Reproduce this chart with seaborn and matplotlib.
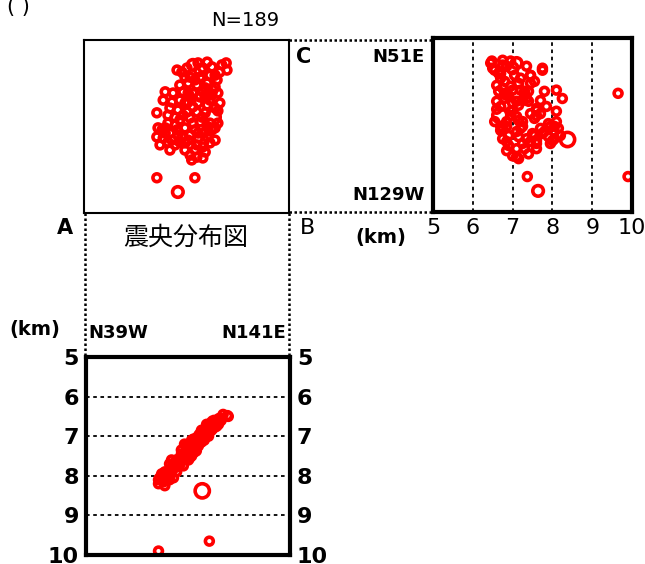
import matplotlib
matplotlib.use("Agg")
import numpy as np
import pandas as pd
import matplotlib.pyplot as plt
from matplotlib.lines import Line2D
import seaborn as sns

# hypocentre list (km); x,y = map position, depth in km
x_km = [2.35, 2.47, 2.75, 2.88, 3.00, 3.23, 3.48, 3.43, 2.68, 2.93,
        3.18, 3.36, 2.63, 2.85, 3.11, 3.31, 2.42, 2.05, 2.25, 2.50,
        2.75, 3.00, 3.23, 3.38, 2.00, 2.22, 2.42, 2.63, 2.88, 3.11,
        3.31, 2.17, 2.37, 2.60, 2.85, 3.06, 3.26, 1.84, 2.12, 2.12,
        2.42, 2.68, 2.93, 3.18, 3.38, 2.35, 2.55, 2.80, 3.06, 3.23,
        1.84, 2.00, 2.22, 2.47, 2.68, 2.88, 3.11, 3.31, 1.92, 2.17,
        2.30, 2.55, 2.85, 3.00, 2.72, 2.85, 3.00, 2.55, 1.84, 2.80,
        2.37, 3.13, 2.95, 2.60, 3.11, 3.31, 2.80, 3.06, 2.68, 2.93,
        3.18, 3.43, 2.75, 2.50, 2.98, 2.75, 3.31, 2.63, 3.18, 2.42,
        2.30, 2.80, 2.05, 2.30, 2.55, 3.06, 3.26, 2.93, 2.55, 3.38,
        3.13, 2.88, 2.17, 2.63, 3.06, 2.68, 1.97, 1.87, 3.61, 3.59,
        2.05, 2.12, 2.37]
y_km = [3.61, 3.56, 3.74, 3.79, 3.66, 3.69, 3.74, 3.56, 3.43, 3.43,
        3.48, 3.36, 3.28, 3.23, 3.28, 3.18, 3.23, 3.06, 3.03, 3.06,
        3.03, 3.06, 2.98, 3.03, 2.85, 2.80, 2.85, 2.80, 2.78, 2.73,
        2.65, 2.65, 2.60, 2.55, 2.55, 2.53, 2.42, 2.53, 2.47, 2.27,
        2.35, 2.40, 2.30, 2.27, 2.27, 2.10, 2.15, 2.10, 2.05, 2.10,
        1.92, 1.89, 1.84, 1.92, 1.97, 1.89, 1.92, 1.84, 1.72, 1.59,
        1.72, 1.77, 1.72, 1.67, 1.34, 1.41, 1.39, 1.59, 0.89, 0.89,
        0.53, 2.98, 1.82, 3.66, 3.81, 3.48, 3.36, 3.16, 2.93, 2.93,
        2.85, 2.78, 2.68, 2.47, 2.42, 2.27, 2.15, 1.84, 1.77, 1.79,
        2.22, 1.59, 2.15, 2.42, 2.78, 2.93, 3.11, 3.61, 3.43, 2.58,
        2.15, 2.02, 2.02, 3.03, 1.54, 1.46, 2.10, 2.15, 3.61, 3.79,
        2.02, 1.79, 1.97]
depth = [7.75, 7.75, 7.10, 6.95, 6.85, 6.75, 6.45, 6.55, 7.45, 7.05,
         6.70, 6.70, 7.55, 7.15, 6.80, 6.60, 7.45, 8.10, 7.80, 7.20,
         7.40, 7.00, 6.80, 6.65, 8.25, 7.70, 7.35, 7.25, 7.10, 7.00,
         6.70, 7.85, 7.60, 7.60, 7.00, 6.95, 6.68, 8.10, 7.70, 8.10,
         7.55, 7.10, 7.15, 6.85, 6.55, 7.70, 7.25, 7.20, 6.70, 6.75,
         8.20, 7.90, 8.05, 7.55, 7.50, 7.15, 6.90, 6.75, 7.95, 7.60,
         7.60, 7.45, 7.25, 6.90, 7.15, 7.00, 7.10, 7.30, 9.90, 7.37,
         7.64, 9.65, 8.38, 7.35, 6.75, 6.65, 7.20, 6.95, 7.30, 6.85,
         6.80, 6.60, 7.15, 7.45, 6.95, 7.25, 6.70, 7.35, 6.85, 7.60,
         7.90, 7.10, 7.95, 7.60, 7.40, 6.90, 6.75, 7.00, 7.45, 6.60,
         6.85, 7.10, 7.80, 7.30, 6.85, 7.40, 8.15, 8.05, 6.50, 6.48,
         8.05, 8.00, 7.75]
mag = [1, 1, 2, 1, 1, 1, 1, 1, 1, 1,
       1, 1, 1, 1, 1, 1, 1, 1, 1, 1,
       1, 1, 1, 1, 1, 1, 1, 1, 1, 1,
       1, 1, 1, 1, 1, 1, 3, 1, 1, 1,
       1, 1, 1, 1, 1, 1, 1, 1, 1, 1,
       1, 1, 1, 1, 1, 1, 1, 1, 1, 1,
       1, 1, 1, 1, 1, 1, 1, 1, 1, 1,
       2, 1, 3, 1, 1, 1, 1, 1, 1, 1,
       1, 1, 1, 1, 1, 1, 1, 1, 1, 1,
       1, 1, 1, 1, 1, 1, 1, 2, 1, 1,
       1, 1, 1, 1, 1, 1, 1, 1, 1, 1,
       1, 1, 1]

depth_ticks = [5, 6, 7, 8, 9, 10]
n_events = 189

df = pd.DataFrame({"x": x_km, "y": y_km, "depth": depth, "mag": mag})

sns.set_style("white")
plt.rcParams["font.family"] = ["DejaVu Sans", "Noto Sans CJK JP"]
plt.rcParams["text.color"] = "black"
plt.rcParams["xtick.color"] = "black"
plt.rcParams["ytick.color"] = "black"

W, H = 645, 564
fig = plt.figure(figsize=(W / 100, H / 100), dpi=100)


def box(x0, y0, x1, y1):
    # pixel box -> figure fraction
    return [x0 / W, 1 - y1 / H, (x1 - x0) / W, (y1 - y0) / H]


XMAX = 205 / 39.6
YMAX = 173 / 39.6
ring = dict(size="mag", sizes={1: 32, 2: 58, 3: 105}, legend=False,
            facecolors="none", edgecolors="red", linewidths=2.6, marker="o")

# epicentre map
ax_map = fig.add_axes(box(84, 40, 289, 213))
sns.scatterplot(data=df, x="x", y="y", ax=ax_map, **ring)
ax_map.set_xlim(0, XMAX)
ax_map.set_ylim(0, YMAX)

# cross section C (depth horizontal)
ax_c = fig.add_axes(box(433, 38, 632, 212))
sns.scatterplot(data=df, x="depth", y="y", ax=ax_c, **ring)
ax_c.set_xlim(5, 10)
ax_c.set_ylim(0, YMAX)
ax_c.set_xticks(depth_ticks)
ax_c.set_yticks([])
for d in depth_ticks[1:-1]:
    ax_c.axvline(d, color="black", ls=(0, (2, 2)), lw=1.3, zorder=0)
ax_c.tick_params(axis="x", length=0, pad=4, labelsize=16)

# cross section A-B (depth vertical)
ax_ab = fig.add_axes(box(86, 357, 290, 555))
sns.scatterplot(data=df, x="x", y="depth", ax=ax_ab, **ring)
ax_ab.set_xlim(0, XMAX)
ax_ab.set_ylim(10, 5)
ax_ab.set_yticks(depth_ticks)
ax_ab.set_xticks([])
for d in depth_ticks[1:-1]:
    ax_ab.axhline(d, color="black", ls=(0, (2, 2)), lw=1.3, zorder=0)
ax_ab.tick_params(axis="y", length=0, pad=5, labelsize=16, left=True, right=True,
                  labelleft=True, labelright=True)
for lab in ax_ab.get_yticklabels():
    lab.set_fontweight("bold")

for ax in (ax_map, ax_c, ax_ab):
    ax.set_xlabel("")
    ax.set_ylabel("")
ax_map.set_xticks([])
ax_map.set_yticks([])
for s in ax_map.spines.values():
    s.set_color("black")
    s.set_linewidth(1.5)
for ax in (ax_c, ax_ab):
    for s in ax.spines.values():
        s.set_color("black")
        s.set_linewidth(3)


def dotted(x0, y0, x1, y1):
    fig.add_artist(Line2D([x0 / W, x1 / W], [1 - y0 / H, 1 - y1 / H],
                          transform=fig.transFigure, color="black",
                          lw=1.8, ls=(0, (1, 1))))


dotted(289, 40, 433, 40)
dotted(289, 212, 433, 212)
dotted(85, 213, 85, 357)
dotted(289, 213, 289, 357)


def label(px, py, s, size=13, weight="bold", ha="center"):
    fig.text(px / W, 1 - py / H, s, fontsize=size, fontweight=weight,
             ha=ha, va="center")


label(18, 7, "( )", size=15, weight="normal")
label(245, 20, f"N={n_events}", size=14, weight="normal")
label(304, 57, "C", size=15)
label(425, 57, "N51E", ha="right")
label(425, 195, "N129W", ha="right")
label(65, 228, "A", size=15)
label(307, 228, "B", size=16, weight="normal")
label(381, 237, "(km)", size=14)
label(186, 238, "震央分布図", size=18, weight="normal")
label(35, 330, "(km)", size=14)
label(88, 333, "N39W", ha="left")
label(286, 333, "N141E", ha="right")

fig.savefig("out.png", dpi=100)
